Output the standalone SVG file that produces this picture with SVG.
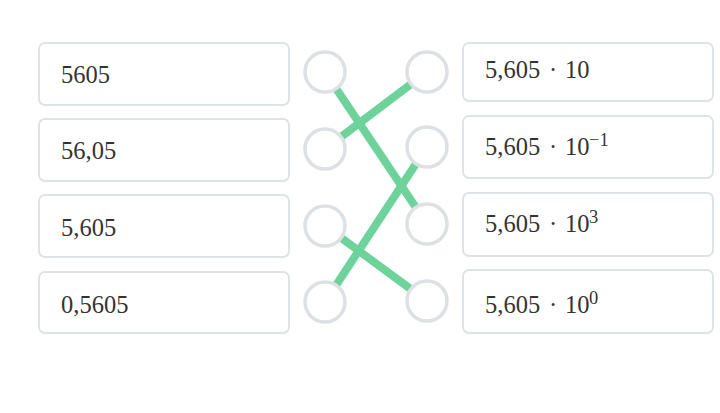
<svg xmlns="http://www.w3.org/2000/svg" width="720" height="413" viewBox="0 0 720 413">
<style>
.box{fill:#fff;stroke:#e0e3e6;stroke-width:2}
.t{font-family:"Liberation Serif","DejaVu Serif",serif;font-size:24.5px;fill:#333}
.sup{font-family:"Liberation Serif","DejaVu Serif",serif;font-size:18.5px;fill:#333}
.dot{fill:#fff;stroke:#dde1e4;stroke-width:3.5}
.ln{stroke:#6dd39a;stroke-width:8;stroke-linecap:butt;fill:none}
</style>
<rect width="720" height="413" fill="#fff"/>
<g id="connectors">
<line class="ln" x1="325" y1="72" x2="427" y2="224"/>
<line class="ln" x1="427" y1="72" x2="325" y2="149"/>
<line class="ln" x1="427" y1="147" x2="325" y2="302"/>
<line class="ln" x1="325" y1="226" x2="427" y2="301"/>
</g>
<g id="L1"><rect class="box" x="39" y="43" width="250" height="62" rx="6"/><text class="t" x="61" y="83">5605</text></g>
<g id="L2"><rect class="box" x="39" y="119" width="250" height="62" rx="6"/><text class="t" x="61" y="159">56,05</text></g>
<g id="L3"><rect class="box" x="39" y="195" width="250" height="62" rx="6"/><text class="t" x="61" y="236">5,605</text></g>
<g id="L4"><rect class="box" x="39" y="272" width="250" height="61" rx="6"/><text class="t" x="61" y="313">0,5605</text></g>
<g id="LC1"><circle class="dot" cx="325" cy="72" r="20"/></g>
<g id="LC2"><circle class="dot" cx="325" cy="149" r="20"/></g>
<g id="LC3"><circle class="dot" cx="325" cy="226" r="20"/></g>
<g id="LC4"><circle class="dot" cx="325" cy="302" r="20"/></g>
<g id="RC1"><circle class="dot" cx="427" cy="72" r="20"/></g>
<g id="RC2"><circle class="dot" cx="427" cy="147" r="20"/></g>
<g id="RC3"><circle class="dot" cx="427" cy="224" r="20"/></g>
<g id="RC4"><circle class="dot" cx="427" cy="301" r="20"/></g>
<g id="R1"><rect class="box" x="463" y="43" width="250" height="58" rx="6"/><text class="t" x="485" y="78">5,605</text><text class="t" x="553" y="78" text-anchor="middle">·</text><text class="t" x="565" y="78">10</text></g>
<g id="R2"><rect class="box" x="463" y="116" width="250" height="62" rx="6"/><text class="t" x="485" y="155">5,605</text><text class="t" x="553" y="155" text-anchor="middle">·</text><text class="t" x="565" y="155">10</text><text class="sup" x="589" y="146">−1</text></g>
<g id="R3"><rect class="box" x="463" y="193" width="250" height="63" rx="6"/><text class="t" x="485" y="232">5,605</text><text class="t" x="553" y="232" text-anchor="middle">·</text><text class="t" x="565" y="232">10</text><text class="sup" x="589" y="223">3</text></g>
<g id="R4"><rect class="box" x="463" y="270" width="250" height="63" rx="6"/><text class="t" x="485" y="313">5,605</text><text class="t" x="553" y="313" text-anchor="middle">·</text><text class="t" x="565" y="313">10</text><text class="sup" x="589" y="304">0</text></g>
</svg>
